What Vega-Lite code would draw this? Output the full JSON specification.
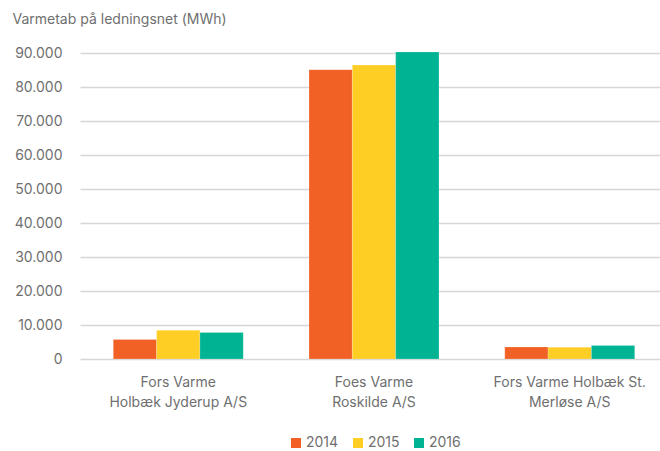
{
  "$schema": "https://vega.github.io/schema/vega-lite/v6.json",
  "autosize": {"type": "none"},
  "width": 580,
  "height": 306,
  "padding": {"left": 80, "top": 53, "right": 0, "bottom": 92},
  "background": "white",
  "data": {
    "values": [
      {"company": "Fors Varme|Holbæk Jyderup A/S", "year": "2014", "value": 5750},
      {"company": "Fors Varme|Holbæk Jyderup A/S", "year": "2015", "value": 8450},
      {"company": "Fors Varme|Holbæk Jyderup A/S", "year": "2016", "value": 7800},
      {"company": "Foes Varme|Roskilde A/S", "year": "2014", "value": 85100},
      {"company": "Foes Varme|Roskilde A/S", "year": "2015", "value": 86450},
      {"company": "Foes Varme|Roskilde A/S", "year": "2016", "value": 90300},
      {"company": "Fors Varme Holbæk St.|Merløse A/S", "year": "2014", "value": 3550},
      {"company": "Fors Varme Holbæk St.|Merløse A/S", "year": "2015", "value": 3450},
      {"company": "Fors Varme Holbæk St.|Merløse A/S", "year": "2016", "value": 3950}
    ]
  },
  "mark": {"type": "bar", "stroke": "white", "strokeWidth": 0.5, "strokeOpacity": 0.4},
  "encoding": {
    "x": {
      "field": "company",
      "type": "nominal",
      "sort": null,
      "scale": {"paddingInner": 0.336, "paddingOuter": 0.17, "range": [0, 588]},
      "axis": {
        "title": null,
        "labelAngle": 0,
        "labelExpr": "split(datum.label, '|')",
        "labelLineHeight": 20,
        "labelPadding": 16,
        "labelFontSize": 14,
        "labelColor": "#6f6f6f",
        "labelFont": "Inter",
        "ticks": false,
        "domain": false
      }
    },
    "xOffset": {"field": "year", "type": "nominal", "scale": {"paddingInner": 0}},
    "y": {
      "field": "value",
      "type": "quantitative",
      "scale": {"domain": [0, 90000], "nice": false},
      "axis": {
        "values": [0, 10000, 20000, 30000, 40000, 50000, 60000, 70000, 80000, 90000],
        "labelExpr": "replace(format(datum.value, ','), ',', '.')",
        "title": "Varmetab på ledningsnet (MWh)",
        "titleAngle": 0,
        "titleAlign": "left",
        "titleBaseline": "middle",
        "titleX": -68,
        "titleY": -34,
        "titleFontSize": 14,
        "titleFontWeight": "normal",
        "titleColor": "#6f6f6f",
        "titleFont": "Inter",
        "labelFontSize": 14,
        "labelColor": "#6f6f6f",
        "labelFont": "Inter",
        "labelPadding": 18,
        "ticks": false,
        "domain": false,
        "grid": true,
        "gridColor": "#d6d6d6",
        "gridWidth": 1.5
      }
    },
    "color": {
      "field": "year",
      "type": "nominal",
      "scale": {"domain": ["2014", "2015", "2016"], "range": ["#F16024", "#FFCE25", "#00B493"]},
      "legend": {
        "title": null,
        "orient": "none",
        "direction": "horizontal",
        "legendX": 209,
        "legendY": 383,
        "symbolType": "square",
        "symbolSize": 100,
        "symbolStrokeWidth": 0,
        "labelFontSize": 14,
        "labelColor": "#6f6f6f",
        "labelFont": "Inter",
        "columnPadding": 12,
        "labelOffset": 3
      }
    }
  },
  "config": {"view": {"stroke": null}}
}
